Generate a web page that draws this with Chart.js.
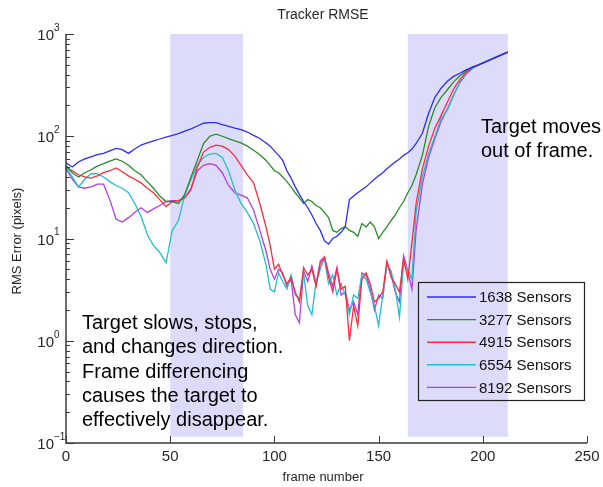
<!DOCTYPE html>
<html>
<head>
<meta charset="utf-8">
<script src="https://cdn.jsdelivr.net/npm/chart.js@4.4.1/dist/chart.umd.min.js"></script>
<style>
  html, body { margin: 0; padding: 0; background: #fff; }
  #wrap { width: 603px; height: 487px; }
</style>
</head>
<body>
<div id="wrap"><canvas id="rmseChart" width="603" height="487"></canvas></div>
<script>
// Valores (frame -> erro RMS em pixels)
const FRAMES = [0,3,6,9,12,15,18,21,24,27,30,33,36,39,42,45,48,51,54,57,60,63,66,69,72,75,78,81,84,87,90,93,96,
  98,100,102,104,106,108,110,112,114,116,118,120,122,124,126,128,130,132,134,136,138,140,142,144,146,148,150,152,154,156,158,160,162,164,166,168,
  171,174,177,180,183,186,189,192,195,198,201,204,207,210,212];

const S1638 = [55,50,56,60,63,66,68,72,76,74,68,75,82,86,90,94,98,102,106,112,118,126,134,136,136,130,125,120,116,110,102,95,86,
  80,72,65,58,46,39,32,27,23,20,17,14,12,9.5,8.8,10,10.5,11.5,13,24,26,28,30,32,35,38,41,44,48,52,56,60,65,69,75,85,
  107,168,240,295,345,385,413,445,475,500,530,565,600,640,665];

const S3277 = [52,44,40,44,47,51,54,57,60,57,52,46,42,36,31,26,23,23,22,27,40,58,85,100,105,100,95,90,86,80,73,66,58,
  52,46,44,40,36,32,28,25,22,24,23,21,20,18,16,12,11.5,12.5,13,12,11.5,10.5,14,13,14.5,13,10,11.5,13,15,17,20,23,28,33,42,
  65,125,190,240,285,340,390,435,475,500,530,565,600,640,665];

const S4915 = [50,46,42,40,39,41,44,46,49,45,41,38,35,31,28,24,20.5,23,23.5,25,30,50,70,78,82,80,74,64,52,42,35,22,12.9,
  8.5,5.0,5.6,4.4,3.6,4.2,3.0,2.4,5.2,4.4,5.0,3.4,5.6,6.6,4.2,3.0,5.0,3.2,3.4,1.0,2.2,1.4,4.0,4.6,3.6,2.4,2.6,3.0,6.0,4.2,3.6,3.0,6.4,4.0,9.0,22,
  48,80,120,160,215,290,360,420,470,500,530,565,600,640,665];

const S6554 = [50,40,32,38,43,43,40,36,33,31,28,22,16.5,11,8.5,7.3,5.8,12,15,27,38,52,62,67,68,62,46,30,22,18,14,9.5,5.5,
  3.2,3.0,4.6,3.8,3.2,4.4,2.8,2.6,4.6,2.2,1.8,3.8,5.0,6.4,3.6,4.4,2.8,3.6,2.8,1.8,2.8,2.6,4.4,4.0,3.0,2.2,1.4,2.8,5.6,4.8,3.2,1.7,5.6,5.0,4.0,18,
  40,68,100,150,180,250,340,410,465,500,530,565,600,640,665];

const S8192 = [48,38,32,31,32,34,34,24,15.5,14.5,16,18,20,18,19.5,21,23,23.5,23.5,25,31,46,52,54,52,44,33,28,26.5,25,19,12,7.5,
  5.0,4.0,5.0,4.6,3.4,4.0,1.8,1.5,4.8,3.8,5.4,3.6,6.0,6.6,4.6,3.4,5.2,2.8,3.0,2.0,2.4,1.8,4.6,4.4,3.2,2.0,2.8,2.6,5.8,4.4,3.0,2.4,6.8,4.8,3.2,12,
  34,62,95,140,185,255,335,405,460,500,530,565,600,640,665];

const SERIES_LABELS = ["1638 Sensors", "3277 Sensors", "4915 Sensors", "6554 Sensors", "8192 Sensors"];
const SERIES_COLORS = ["#2b2bff", "#2a8a2a", "#ff2a3a", "#22bfcc", "#b43ce0"];

const X_TICKS = [0, 50, 100, 150, 200, 250];
const Y_DECADES = [-1, 0, 1, 2, 3];
// Faixas sombreadas [início, fim] em frames
const SHADED = [[50, 85], [164, 212]];

const NOTE_LEFT = ["Target slows, stops,", "and changes direction.", "Frame differencing", "causes the target to", "effectively disappear."];
const NOTE_RIGHT = ["Target moves", "out of frame."];

const FONT = '"Liberation Sans", Arial, sans-serif';

const shadePlugin = {
    id: 'shade',
    beforeDatasetsDraw(chart) {
        const { ctx, scales: { x, y } } = chart;
        ctx.save();
        ctx.fillStyle = '#dcdcfa';
        SHADED.forEach(([a, b]) => {
            const x0 = x.getPixelForValue(a), x1 = x.getPixelForValue(b);
            const y0 = y.getPixelForValue(1000), y1 = y.getPixelForValue(0.115);
            ctx.fillRect(x0, y0, x1 - x0, y1 - y0);
        });
        ctx.restore();
    }
};

const axesPlugin = {
    id: 'matlabAxes',
    afterDraw(chart) {
        const { ctx, chartArea: area, scales: { x, y } } = chart;
        ctx.save();

        // Eixos esquerdo e inferior
        ctx.strokeStyle = '#3a3a3a';
        ctx.lineWidth = 1.5;
        ctx.beginPath();
        ctx.moveTo(area.left, area.top);
        ctx.lineTo(area.left, area.bottom);
        ctx.lineTo(area.right, area.bottom);
        ctx.stroke();

        // Marcas do eixo y (log), para dentro
        ctx.lineWidth = 1;
        ctx.beginPath();
        Y_DECADES.forEach(e => {
            const py = Math.round(y.getPixelForValue(Math.pow(10, e))) + 0.5;
            ctx.moveTo(area.left, py); ctx.lineTo(area.left + 8, py);
            if (e < 3) {
                for (let k = 2; k <= 9; k++) {
                    const my = Math.round(y.getPixelForValue(k * Math.pow(10, e))) + 0.5;
                    ctx.moveTo(area.left, my); ctx.lineTo(area.left + 4, my);
                }
            }
        });
        X_TICKS.forEach(t => {
            const px = Math.round(x.getPixelForValue(t)) + 0.5;
            ctx.moveTo(px, area.bottom); ctx.lineTo(px, area.bottom - 7);
        });
        ctx.stroke();

        // Rótulos
        ctx.fillStyle = '#262626';
        ctx.font = `15px ${FONT}`;
        ctx.textAlign = 'center';
        ctx.textBaseline = 'middle';
        X_TICKS.forEach(t => ctx.fillText(String(t), x.getPixelForValue(t), area.bottom + 14));

        Y_DECADES.forEach(e => {
            const py = y.getPixelForValue(Math.pow(10, e));
            ctx.font = `15px ${FONT}`;
            ctx.textAlign = 'right';
            ctx.textBaseline = 'middle';
            ctx.fillText('10', area.left - 12, py + 2);
            ctx.font = `10px ${FONT}`;
            ctx.textAlign = 'left';
            ctx.fillText(String(e).replace('-', '\u2212'), area.left - 12, py - 6);
        });

        ctx.font = `14px ${FONT}`;
        ctx.textAlign = 'center';
        ctx.fillText('Tracker RMSE', 323, 15);
        ctx.font = `13px ${FONT}`;
        ctx.fillText('frame number', 323, 477);
        ctx.save();
        ctx.translate(17, 241);
        ctx.rotate(-Math.PI / 2);
        ctx.fillText('RMS Error (pixels)', 0, 0);
        ctx.restore();

        // Anotações
        ctx.fillStyle = '#000';
        ctx.font = `20px ${FONT}`;
        ctx.textAlign = 'left';
        ctx.textBaseline = 'alphabetic';
        NOTE_LEFT.forEach((line, i) => ctx.fillText(line, 82, 329 + i * 24.3));
        NOTE_RIGHT.forEach((line, i) => ctx.fillText(line, 481, 133 + i * 24));

        // Legenda (transparente, como no original)
        const lx = 418, ly = 282, lw = 166, lh = 118;
        ctx.strokeStyle = '#222';
        ctx.lineWidth = 1.2;
        ctx.strokeRect(lx + 0.5, ly + 0.5, lw, lh);
        ctx.font = `15px ${FONT}`;
        ctx.textBaseline = 'middle';
        chart.data.datasets.forEach((ds, i) => {
            const ry = ly + 15 + i * 22.6;
            ctx.strokeStyle = ds.borderColor;
            ctx.lineWidth = 1.4;
            ctx.beginPath();
            ctx.moveTo(427, ry); ctx.lineTo(476, ry);
            ctx.stroke();
            ctx.fillStyle = '#111';
            ctx.fillText(ds.label, 479, ry + 1);
        });
        ctx.restore();
    }
};

const seriesValues = [S1638, S3277, S4915, S6554, S8192];

new Chart(document.getElementById('rmseChart').getContext('2d'), {
    type: 'line',
    data: {
        datasets: seriesValues.map((vals, i) => ({
            label: SERIES_LABELS[i],
            data: FRAMES.map((f, j) => ({ x: f, y: vals[j] })),
            borderColor: SERIES_COLORS[i],
            borderWidth: 1.3,
            pointRadius: 0,
            tension: 0,
            fill: false
        }))
    },
    options: {
        responsive: false,
        animation: false,
        devicePixelRatio: 1,
        layout: { padding: { left: 66, right: 16, top: 34, bottom: 44 } },
        plugins: { legend: { display: false }, title: { display: false }, tooltip: { enabled: false } },
        scales: {
            x: { type: 'linear', min: 0, max: 250, display: false },
            y: { type: 'logarithmic', min: 0.1, max: 1000, display: false }
        }
    },
    plugins: [shadePlugin, axesPlugin]
});
</script>
</body>
</html>
